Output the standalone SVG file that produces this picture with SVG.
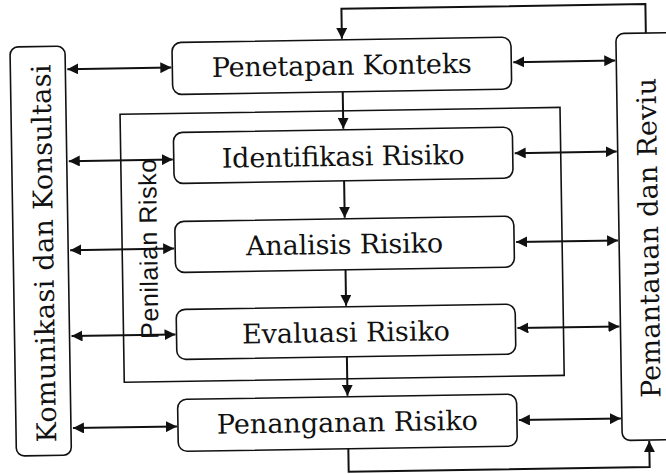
<svg xmlns="http://www.w3.org/2000/svg" width="666" height="474" viewBox="0 0 666 474">
<style>
.box{fill:#fff;stroke:#111;stroke-width:1.6}
.frame{fill:none;stroke:#111;stroke-width:1.6}
.lbl{font-family:"DejaVu Serif","Liberation Serif",serif;font-size:27px;fill:#111;text-anchor:middle}
.sans{font-family:"Liberation Sans",Arial,sans-serif;font-size:25px;fill:#111;text-anchor:middle}
.conn{fill:none;stroke:#111;stroke-width:2}
</style>
<defs>
<marker id="ah" viewBox="0 0 10 10" refX="10" refY="5" markerWidth="5.5" markerHeight="5.5" orient="auto-start-reverse" markerUnits="strokeWidth">
<path d="M0,0 L10,5 L0,10 Z" fill="#111"/>
</marker>
</defs>
<rect width="666" height="474" fill="#fff"/>
<g transform="rotate(-0.9 333 237)">
<g id="connectors">
<line class="conn" x1="70" y1="65" x2="174" y2="65" marker-start="url(#ah)" marker-end="url(#ah)"/>
<line class="conn" x1="70" y1="157" x2="174" y2="157" marker-start="url(#ah)" marker-end="url(#ah)"/>
<line class="conn" x1="70" y1="246" x2="174" y2="246" marker-start="url(#ah)" marker-end="url(#ah)"/>
<line class="conn" x1="70" y1="332" x2="174" y2="332" marker-start="url(#ah)" marker-end="url(#ah)"/>
<line class="conn" x1="70" y1="424" x2="174" y2="424" marker-start="url(#ah)" marker-end="url(#ah)"/>
<line class="conn" x1="516" y1="65" x2="618" y2="65" marker-start="url(#ah)" marker-end="url(#ah)"/>
<line class="conn" x1="516" y1="156" x2="618" y2="156" marker-start="url(#ah)" marker-end="url(#ah)"/>
<line class="conn" x1="516" y1="245" x2="618" y2="245" marker-start="url(#ah)" marker-end="url(#ah)"/>
<line class="conn" x1="516" y1="331" x2="618" y2="331" marker-start="url(#ah)" marker-end="url(#ah)"/>
<line class="conn" x1="516" y1="423" x2="618" y2="423" marker-start="url(#ah)" marker-end="url(#ah)"/>
<line class="conn" x1="345" y1="92" x2="345" y2="129" marker-end="url(#ah)"/>
<line class="conn" x1="345" y1="181" x2="345" y2="218" marker-end="url(#ah)"/>
<line class="conn" x1="345" y1="270" x2="345" y2="306" marker-end="url(#ah)"/>
<line class="conn" x1="345" y1="357" x2="345" y2="396" marker-end="url(#ah)"/>
<path class="conn" d="M649,38 V9 H345 V39" marker-end="url(#ah)"/>
<path class="conn" d="M345,449 V472 H646 V446" marker-end="url(#ah)"/>
</g>
<g id="penilaian">
<rect class="frame" x="122" y="111" width="440" height="268"/>
<text class="sans" transform="translate(157,246) rotate(-90)" textLength="180" lengthAdjust="spacing">Penilaian Risko</text>
</g>
<g id="komunikasi">
<rect class="box" x="13" y="42" width="55" height="409" rx="8"/>
<text class="lbl" transform="translate(53,249) rotate(-90)" textLength="378" lengthAdjust="spacing">Komunikasi dan Konsultasi</text>
</g>
<g id="pemantauan">
<rect class="box" x="619" y="38" width="90" height="407" rx="8"/>
<text class="lbl" transform="translate(658,243) rotate(-90)" textLength="320" lengthAdjust="spacing">Pemantauan dan Reviu</text>
</g>
<g id="penetapan">
<rect class="box" x="175" y="40" width="339" height="52" rx="9"/>
<text class="lbl" x="344.5" y="75" textLength="260" lengthAdjust="spacing">Penetapan Konteks</text>
</g>
<g id="identifikasi">
<rect class="box" x="175" y="130" width="339" height="51" rx="9"/>
<text class="lbl" x="344.5" y="166" textLength="243" lengthAdjust="spacing">Identifikasi Risiko</text>
</g>
<g id="analisis">
<rect class="box" x="175" y="219" width="339" height="51" rx="9"/>
<text class="lbl" x="344.5" y="254" textLength="197" lengthAdjust="spacing">Analisis Risiko</text>
</g>
<g id="evaluasi">
<rect class="box" x="175" y="307" width="339" height="50" rx="9"/>
<text class="lbl" x="344.5" y="342" textLength="208" lengthAdjust="spacing">Evaluasi Risiko</text>
</g>
<g id="penanganan">
<rect class="box" x="175" y="397" width="339" height="52" rx="9"/>
<text class="lbl" x="344.5" y="432" textLength="261" lengthAdjust="spacing">Penanganan Risiko</text>
</g>
</g>
</svg>
